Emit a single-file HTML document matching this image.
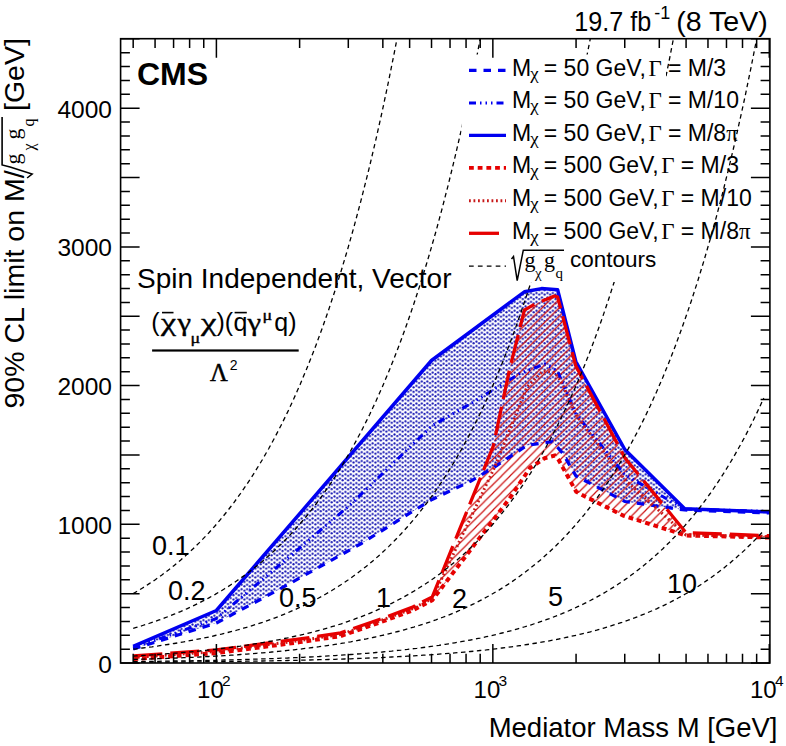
<!DOCTYPE html>
<html><head><meta charset="utf-8"><style>html,body{margin:0;padding:0;background:#fff;}svg{display:block;}</style></head>
<body><svg width="786" height="746" viewBox="0 0 786 746"><defs><clipPath id="fr"><rect x="120.6" y="38.7" width="649.3" height="624.3"/></clipPath><pattern id="dots" width="5.46" height="4.42" patternUnits="userSpaceOnUse"><circle cx="1.4" cy="1.4" r="1.08" fill="#1010b0"/><circle cx="4.13" cy="2.87" r="1.08" fill="#1010b0"/></pattern><pattern id="hatch" width="8.5" height="8.5" patternUnits="userSpaceOnUse"><path d="M-1,9.5 L9.5,-1 M-1,1 L1,-1 M7.5,9.5 L9.5,7.5" stroke="#cc1010" stroke-width="1.2"/></pattern></defs><rect width="786" height="746" fill="#fff"/><g clip-path="url(#fr)"><polygon points="133.2,646.3 216.4,610.5 431.5,360.5 524.4,291.8 541.5,288.6 557.6,289.7 575.8,361.5 624.8,449.5 684.7,508.7 769.8,512.0 769.8,513.0 684.7,510.0 625.0,501.5 576.0,476.0 562.5,453.0 552.3,441.6 526.9,445.4 496.3,465.8 470.9,481.1 432.0,499.5 409.7,513.2 361.3,543.5 284.6,586.4 216.5,623.0 133.2,649.0" fill="url(#dots)"/><polygon points="432.3,596.9 493.3,446.0 509.4,370.1 524.4,310.0 535.0,304.0 554.4,296.0 557.6,297.0 575.8,366.0 625.0,458.0 675.6,520.0 686.0,532.7 769.8,535.7 769.8,537.5 686.0,535.5 623.8,515.8 583.6,495.7 576.2,491.7 558.8,460.2 554.8,455.5 544.7,458.2 530.0,468.0 510.0,497.9 432.3,600.1" fill="url(#hatch)"/><polyline points="133.2,649.0 216.5,623.0 284.6,586.4 361.3,543.5 409.7,513.2 432.0,499.5 470.9,481.1 496.3,465.8 526.9,445.4 552.3,441.6 562.5,453.0 576.0,476.0 625.0,501.5 684.7,510.0 769.8,513.0" fill="none" stroke="#0000f0" stroke-width="3.2" stroke-dasharray="7.5 7"/><polyline points="133.2,648.0 216.5,618.5 348.6,506.3 432.0,425.8 472.9,402.3 520.1,373.3 545.0,364.0 557.5,371.0 576.0,414.0 625.0,475.0 684.7,509.0 769.8,511.5" fill="none" stroke="#0000f0" stroke-width="3" stroke-dasharray="7 4 1.5 4 1.5 4 1.5 4"/><polyline points="133.2,646.3 216.4,610.5 431.5,360.5 524.4,291.8 541.5,288.6 557.6,289.7 575.8,361.5 624.8,449.5 684.7,508.7 769.8,512.0" fill="none" stroke="#0000f0" stroke-width="3.5" stroke-linejoin="round"/><polyline points="133.4,659.1 216.5,653.1 300.0,642.1 340.7,636.1 381.4,621.9 412.0,610.6 432.3,600.1 510.0,497.9 530.0,468.0 544.7,458.2 554.8,455.5 558.8,460.2 576.2,491.7 583.6,495.7 623.8,515.8 686.0,535.5 769.8,537.5" fill="none" stroke="#e60000" stroke-width="4" stroke-dasharray="4.8 3.9"/><polyline points="133.4,657.5 216.5,651.5 300.0,640.5 340.7,634.5 381.4,620.3 412.0,609.0 432.3,598.5 494.3,467.9 514.1,419.2 527.0,387.0 543.0,370.9 554.3,372.5 560.8,380.6 576.0,415.0 625.0,480.0 686.0,535.0 769.8,536.5" fill="none" stroke="#c81818" stroke-width="3" stroke-dasharray="1.8 2.7"/><polyline points="133.4,655.9 216.5,649.9 300.0,638.9 340.7,632.9 381.4,618.7 412.0,607.4 432.3,596.9 493.3,446.0 509.4,370.1 524.4,310.0 535.0,304.0 554.4,296.0 557.6,297.0 575.8,366.0 625.0,458.0 675.6,520.0 686.0,532.7 769.8,535.7" fill="none" stroke="#e60000" stroke-width="3.3" stroke-dasharray="29 8"/><polyline points="133.2,593.6 136.3,591.8 139.5,589.9 142.6,588.0 145.8,586.0 148.9,583.9 152.1,581.8 155.3,579.7 158.4,577.4 161.6,575.2 164.7,572.8 167.9,570.4 171.0,568.0 174.2,565.4 177.3,562.8 180.5,560.2 183.6,557.4 186.8,554.6 189.9,551.7 193.1,548.8 196.2,545.7 199.4,542.6 202.5,539.4 205.7,536.1 208.9,532.8 212.0,529.3 215.2,525.7 218.3,522.1 221.5,518.3 224.6,514.5 227.8,510.5 230.9,506.5 234.1,502.3 237.2,498.0 240.4,493.6 243.5,489.1 246.7,484.5 249.8,479.8 253.0,474.9 256.1,469.9 259.3,464.7 262.5,459.5 265.6,454.0 268.8,448.5 271.9,442.8 275.1,436.9 278.2,430.9 281.4,424.7 284.5,418.4 287.7,411.9 290.8,405.2 294.0,398.3 297.1,391.3 300.3,384.1 303.4,376.6 306.6,369.0 309.7,361.2 312.9,353.2 316.1,344.9 319.2,336.4 322.4,327.8 325.5,318.8 328.7,309.7 331.8,300.3 335.0,290.6 338.1,280.7 341.3,270.5 344.4,260.1 347.6,249.4 350.7,238.4 353.9,227.1 357.0,215.5 360.2,203.6 363.3,191.3 366.5,178.8 369.7,165.9 372.8,152.7 376.0,139.1 379.1,125.2 382.3,110.9 385.4,96.2 388.6,81.1 391.7,65.6 394.9,49.7 398.0,33.4 401.2,16.6 404.3,-0.6 407.5,-18.2 410.6,-36.4 413.8,-55.0 416.9,-74.1 420.1,-93.7 423.3,-113.8 426.4,-134.5 429.6,-155.7 432.7,-177.5 435.9,-199.9 439.0,-222.8 442.2,-246.4 445.3,-270.6 448.5,-295.4 451.6,-320.9 454.8,-347.1 457.9,-374.0 461.1,-401.6 464.2,-429.9 467.4,-459.0 470.5,-488.9 473.7,-519.5 476.9,-551.0 480.0,-583.3 483.2,-616.4 486.3,-650.5 489.5,-685.4 492.6,-721.3 495.8,-758.2 498.9,-796.0 502.1,-834.8 505.2,-874.6 508.4,-915.6 511.5,-957.6 514.7,-1000.7 517.8,-1045.0 521.0,-1090.4 524.1,-1137.1 527.3,-1185.0 530.5,-1234.1 533.6,-1284.6 536.8,-1336.4 539.9,-1389.6 543.1,-1444.3 546.2,-1500.3 549.4,-1557.9 552.5,-1617.0 555.7,-1677.7 558.8,-1739.9 562.0,-1803.9 565.1,-1869.5 568.3,-1936.9 571.4,-2006.1 574.6,-2077.1 577.7,-2150.0 580.9,-2224.9 584.1,-2301.7 587.2,-2380.6 590.4,-2461.6 593.5,-2544.8 596.7,-2630.1 599.8,-2717.7 603.0,-2807.7 606.1,-2900.0 609.3,-2994.9 612.4,-3092.2 615.6,-3192.1 618.7,-3294.7 621.9,-3400.0 625.0,-3508.1 628.2,-3619.1 631.3,-3733.1 634.5,-3850.0 637.7,-3970.1 640.8,-4093.4 644.0,-4220.0 647.1,-4349.9 650.3,-4483.3 653.4,-4620.2 656.6,-4760.8 659.7,-4905.1 662.9,-5053.3 666.0,-5205.4 669.2,-5361.6 672.3,-5521.9 675.5,-5686.4 678.6,-5855.4 681.8,-6028.8 684.9,-6206.9 688.1,-6389.7 691.3,-6577.4 694.4,-6770.0 697.6,-6967.8 700.7,-7170.9 703.9,-7379.3 707.0,-7593.3 710.2,-7813.0 713.3,-8038.6 716.5,-8270.1 719.6,-8507.8 722.8,-8751.8 725.9,-9002.4 729.1,-9259.5 732.2,-9523.6 735.4,-9794.6 738.5,-10072.9 741.7,-10358.6 744.9,-10651.9 748.0,-10952.9 751.2,-11262.0 754.3,-11579.3 757.5,-11905.1 760.6,-12239.5 763.8,-12582.9" fill="none" stroke="#000" stroke-width="1.3" stroke-dasharray="4.5 3.5"/><polyline points="133.2,628.3 136.3,627.4 139.5,626.5 142.6,625.5 145.8,624.5 148.9,623.5 152.1,622.4 155.3,621.3 158.4,620.2 161.6,619.1 164.7,617.9 167.9,616.7 171.0,615.5 174.2,614.2 177.3,612.9 180.5,611.6 183.6,610.2 186.8,608.8 189.9,607.4 193.1,605.9 196.2,604.4 199.4,602.8 202.5,601.2 205.7,599.6 208.9,597.9 212.0,596.1 215.2,594.4 218.3,592.5 221.5,590.7 224.6,588.7 227.8,586.8 230.9,584.7 234.1,582.7 237.2,580.5 240.4,578.3 243.5,576.1 246.7,573.8 249.8,571.4 253.0,568.9 256.1,566.4 259.3,563.9 262.5,561.2 265.6,558.5 268.8,555.7 271.9,552.9 275.1,550.0 278.2,546.9 281.4,543.9 284.5,540.7 287.7,537.4 290.8,534.1 294.0,530.7 297.1,527.1 300.3,523.5 303.4,519.8 306.6,516.0 309.7,512.1 312.9,508.1 316.1,504.0 319.2,499.7 322.4,495.4 325.5,490.9 328.7,486.3 331.8,481.6 335.0,476.8 338.1,471.9 341.3,466.8 344.4,461.6 347.6,456.2 350.7,450.7 353.9,445.0 357.0,439.2 360.2,433.3 363.3,427.2 366.5,420.9 369.7,414.5 372.8,407.8 376.0,401.1 379.1,394.1 382.3,386.9 385.4,379.6 388.6,372.0 391.7,364.3 394.9,356.3 398.0,348.2 401.2,339.8 404.3,331.2 407.5,322.4 410.6,313.3 413.8,304.0 416.9,294.5 420.1,284.7 423.3,274.6 426.4,264.3 429.6,253.6 432.7,242.8 435.9,231.6 439.0,220.1 442.2,208.3 445.3,196.2 448.5,183.8 451.6,171.0 454.8,157.9 457.9,144.5 461.1,130.7 464.2,116.5 467.4,102.0 470.5,87.1 473.7,71.7 476.9,56.0 480.0,39.9 483.2,23.3 486.3,6.3 489.5,-11.2 492.6,-29.2 495.8,-47.6 498.9,-66.5 502.1,-85.9 505.2,-105.8 508.4,-126.3 511.5,-147.3 514.7,-168.8 517.8,-191.0 521.0,-213.7 524.1,-237.0 527.3,-261.0 530.5,-285.6 533.6,-310.8 536.8,-336.7 539.9,-363.3 543.1,-390.6 546.2,-418.7 549.4,-447.4 552.5,-477.0 555.7,-507.3 558.8,-538.5 562.0,-570.4 565.1,-603.3 568.3,-637.0 571.4,-671.5 574.6,-707.1 577.7,-743.5 580.9,-780.9 584.1,-819.4 587.2,-858.8 590.4,-899.3 593.5,-940.9 596.7,-983.6 599.8,-1027.4 603.0,-1072.3 606.1,-1118.5 609.3,-1165.9 612.4,-1214.6 615.6,-1264.6 618.7,-1315.8 621.9,-1368.5 625.0,-1422.6 628.2,-1478.1 631.3,-1535.0 634.5,-1593.5 637.7,-1653.6 640.8,-1715.2 644.0,-1778.5 647.1,-1843.4 650.3,-1910.1 653.4,-1978.6 656.6,-2048.9 659.7,-2121.1 662.9,-2195.1 666.0,-2271.2 669.2,-2349.3 672.3,-2429.4 675.5,-2511.7 678.6,-2596.2 681.8,-2682.9 684.9,-2772.0 688.1,-2863.4 691.3,-2957.2 694.4,-3053.5 697.6,-3152.4 700.7,-3253.9 703.9,-3358.2 707.0,-3465.2 710.2,-3575.0 713.3,-3687.8 716.5,-3803.6 719.6,-3922.4 722.8,-4044.4 725.9,-4169.7 729.1,-4298.3 732.2,-4430.3 735.4,-4565.8 738.5,-4705.0 741.7,-4847.8 744.9,-4994.4 748.0,-5145.0 751.2,-5299.5 754.3,-5458.2 757.5,-5621.0 760.6,-5788.3 763.8,-5959.9" fill="none" stroke="#000" stroke-width="1.3" stroke-dasharray="4.5 3.5"/><polyline points="133.2,649.1 136.3,648.8 139.5,648.4 142.6,648.0 145.8,647.6 148.9,647.2 152.1,646.8 155.3,646.3 158.4,645.9 161.6,645.4 164.7,645.0 167.9,644.5 171.0,644.0 174.2,643.5 177.3,643.0 180.5,642.4 183.6,641.9 186.8,641.3 189.9,640.7 193.1,640.2 196.2,639.5 199.4,638.9 202.5,638.3 205.7,637.6 208.9,637.0 212.0,636.3 215.2,635.5 218.3,634.8 221.5,634.1 224.6,633.3 227.8,632.5 230.9,631.7 234.1,630.9 237.2,630.0 240.4,629.1 243.5,628.2 246.7,627.3 249.8,626.4 253.0,625.4 256.1,624.4 259.3,623.3 262.5,622.3 265.6,621.2 268.8,620.1 271.9,619.0 275.1,617.8 278.2,616.6 281.4,615.3 284.5,614.1 287.7,612.8 290.8,611.4 294.0,610.1 297.1,608.7 300.3,607.2 303.4,605.7 306.6,604.2 309.7,602.6 312.9,601.0 316.1,599.4 319.2,597.7 322.4,596.0 325.5,594.2 328.7,592.3 331.8,590.5 335.0,588.5 338.1,586.5 341.3,584.5 344.4,582.4 347.6,580.3 350.7,578.1 353.9,575.8 357.0,573.5 360.2,571.1 363.3,568.7 366.5,566.2 369.7,563.6 372.8,560.9 376.0,558.2 379.1,555.4 382.3,552.6 385.4,549.6 388.6,546.6 391.7,543.5 394.9,540.3 398.0,537.1 401.2,533.7 404.3,530.3 407.5,526.8 410.6,523.1 413.8,519.4 416.9,515.6 420.1,511.7 423.3,507.6 426.4,503.5 429.6,499.3 432.7,494.9 435.9,490.4 439.0,485.8 442.2,481.1 445.3,476.3 448.5,471.3 451.6,466.2 454.8,461.0 457.9,455.6 461.1,450.1 464.2,444.4 467.4,438.6 470.5,432.6 473.7,426.5 476.9,420.2 480.0,413.7 483.2,407.1 486.3,400.3 489.5,393.3 492.6,386.1 495.8,378.8 498.9,371.2 502.1,363.4 505.2,355.5 508.4,347.3 511.5,338.9 514.7,330.3 517.8,321.4 521.0,312.3 524.1,303.0 527.3,293.4 530.5,283.6 533.6,273.5 536.8,263.1 539.9,252.5 543.1,241.5 546.2,230.3 549.4,218.8 552.5,207.0 555.7,194.9 558.8,182.4 562.0,169.6 565.1,156.5 568.3,143.0 571.4,129.2 574.6,115.0 577.7,100.4 580.9,85.4 584.1,70.1 587.2,54.3 590.4,38.1 593.5,21.4 596.7,4.4 599.8,-13.1 603.0,-31.1 606.1,-49.6 609.3,-68.6 612.4,-88.0 615.6,-108.0 618.7,-128.5 621.9,-149.6 625.0,-171.2 628.2,-193.4 631.3,-216.2 634.5,-239.6 637.7,-263.6 640.8,-288.3 644.0,-313.6 647.1,-339.6 650.3,-366.3 653.4,-393.6 656.6,-421.8 659.7,-450.6 662.9,-480.3 666.0,-510.7 669.2,-541.9 672.3,-574.0 675.5,-606.9 678.6,-640.7 681.8,-675.4 684.9,-711.0 688.1,-747.5 691.3,-785.1 694.4,-823.6 697.6,-863.2 700.7,-903.8 703.9,-945.5 707.0,-988.3 710.2,-1032.2 713.3,-1077.3 716.5,-1123.6 719.6,-1171.2 722.8,-1220.0 725.9,-1270.1 729.1,-1321.5 732.2,-1374.3 735.4,-1428.5 738.5,-1484.2 741.7,-1541.3 744.9,-1600.0 748.0,-1660.2 751.2,-1722.0 754.3,-1785.5 757.5,-1850.6 760.6,-1917.5 763.8,-1986.2" fill="none" stroke="#000" stroke-width="1.3" stroke-dasharray="4.5 3.5"/><polyline points="133.2,656.1 136.3,655.9 139.5,655.7 142.6,655.5 145.8,655.3 148.9,655.1 152.1,654.9 155.3,654.7 158.4,654.4 161.6,654.2 164.7,654.0 167.9,653.7 171.0,653.5 174.2,653.2 177.3,653.0 180.5,652.7 183.6,652.4 186.8,652.2 189.9,651.9 193.1,651.6 196.2,651.3 199.4,651.0 202.5,650.6 205.7,650.3 208.9,650.0 212.0,649.6 215.2,649.3 218.3,648.9 221.5,648.5 224.6,648.1 227.8,647.8 230.9,647.3 234.1,646.9 237.2,646.5 240.4,646.1 243.5,645.6 246.7,645.2 249.8,644.7 253.0,644.2 256.1,643.7 259.3,643.2 262.5,642.6 265.6,642.1 268.8,641.5 271.9,641.0 275.1,640.4 278.2,639.8 281.4,639.2 284.5,638.5 287.7,637.9 290.8,637.2 294.0,636.5 297.1,635.8 300.3,635.1 303.4,634.4 306.6,633.6 309.7,632.8 312.9,632.0 316.1,631.2 319.2,630.3 322.4,629.5 325.5,628.6 328.7,627.7 331.8,626.7 335.0,625.8 338.1,624.8 341.3,623.8 344.4,622.7 347.6,621.6 350.7,620.5 353.9,619.4 357.0,618.2 360.2,617.1 363.3,615.8 366.5,614.6 369.7,613.3 372.8,612.0 376.0,610.6 379.1,609.2 382.3,607.8 385.4,606.3 388.6,604.8 391.7,603.3 394.9,601.7 398.0,600.0 401.2,598.4 404.3,596.6 407.5,594.9 410.6,593.1 413.8,591.2 416.9,589.3 420.1,587.3 423.3,585.3 426.4,583.3 429.6,581.1 432.7,579.0 435.9,576.7 439.0,574.4 442.2,572.1 445.3,569.6 448.5,567.2 451.6,564.6 454.8,562.0 457.9,559.3 461.1,556.5 464.2,553.7 467.4,550.8 470.5,547.8 473.7,544.7 476.9,541.6 480.0,538.4 483.2,535.1 486.3,531.7 489.5,528.2 492.6,524.6 495.8,520.9 498.9,517.1 502.1,513.2 505.2,509.2 508.4,505.1 511.5,500.9 514.7,496.6 517.8,492.2 521.0,487.7 524.1,483.0 527.3,478.2 530.5,473.3 533.6,468.2 536.8,463.1 539.9,457.7 543.1,452.3 546.2,446.7 549.4,440.9 552.5,435.0 555.7,428.9 558.8,422.7 562.0,416.3 565.1,409.7 568.3,403.0 571.4,396.1 574.6,389.0 577.7,381.7 580.9,374.2 584.1,366.5 587.2,358.6 590.4,350.5 593.5,342.2 596.7,333.7 599.8,324.9 603.0,315.9 606.1,306.7 609.3,297.2 612.4,287.5 615.6,277.5 618.7,267.2 621.9,256.7 625.0,245.9 628.2,234.8 631.3,223.4 634.5,211.7 637.7,199.7 640.8,187.4 644.0,174.7 647.1,161.7 650.3,148.4 653.4,134.7 656.6,120.6 659.7,106.2 662.9,91.4 666.0,76.2 669.2,60.5 672.3,44.5 675.5,28.1 678.6,11.2 681.8,-6.2 684.9,-24.0 688.1,-42.3 691.3,-61.0 694.4,-80.3 697.6,-100.1 700.7,-120.4 703.9,-141.2 707.0,-162.6 710.2,-184.6 713.3,-207.2 716.5,-230.3 719.6,-254.1 722.8,-278.5 725.9,-303.5 729.1,-329.3 732.2,-355.7 735.4,-382.8 738.5,-410.6 741.7,-439.2 744.9,-468.5 748.0,-498.6 751.2,-529.5 754.3,-561.2 757.5,-593.8 760.6,-627.3 763.8,-661.6" fill="none" stroke="#000" stroke-width="1.3" stroke-dasharray="4.5 3.5"/><rect x="461.5" y="54.5" width="204.5" height="227.5" fill="#fff"/><polyline points="133.2,659.5 136.3,659.4 139.5,659.3 142.6,659.2 145.8,659.1 148.9,659.0 152.1,658.9 155.3,658.8 158.4,658.7 161.6,658.6 164.7,658.5 167.9,658.4 171.0,658.2 174.2,658.1 177.3,658.0 180.5,657.9 183.6,657.7 186.8,657.6 189.9,657.4 193.1,657.3 196.2,657.1 199.4,657.0 202.5,656.8 205.7,656.7 208.9,656.5 212.0,656.3 215.2,656.1 218.3,656.0 221.5,655.8 224.6,655.6 227.8,655.4 230.9,655.2 234.1,655.0 237.2,654.8 240.4,654.5 243.5,654.3 246.7,654.1 249.8,653.8 253.0,653.6 256.1,653.3 259.3,653.1 262.5,652.8 265.6,652.6 268.8,652.3 271.9,652.0 275.1,651.7 278.2,651.4 281.4,651.1 284.5,650.8 287.7,650.4 290.8,650.1 294.0,649.8 297.1,649.4 300.3,649.1 303.4,648.7 306.6,648.3 309.7,647.9 312.9,647.5 316.1,647.1 319.2,646.7 322.4,646.2 325.5,645.8 328.7,645.3 331.8,644.9 335.0,644.4 338.1,643.9 341.3,643.4 344.4,642.9 347.6,642.3 350.7,641.8 353.9,641.2 357.0,640.6 360.2,640.0 363.3,639.4 366.5,638.8 369.7,638.1 372.8,637.5 376.0,636.8 379.1,636.1 382.3,635.4 385.4,634.7 388.6,633.9 391.7,633.1 394.9,632.3 398.0,631.5 401.2,630.7 404.3,629.8 407.5,628.9 410.6,628.0 413.8,627.1 416.9,626.1 420.1,625.2 423.3,624.2 426.4,623.1 429.6,622.1 432.7,621.0 435.9,619.9 439.0,618.7 442.2,617.5 445.3,616.3 448.5,615.1 451.6,613.8 454.8,612.5 457.9,611.2 461.1,609.8 464.2,608.4 467.4,606.9 470.5,605.4 473.7,603.9 476.9,602.3 480.0,600.7 483.2,599.0 486.3,597.3 489.5,595.6 492.6,593.8 495.8,591.9 498.9,590.1 502.1,588.1 505.2,586.1 508.4,584.1 511.5,582.0 514.7,579.8 517.8,577.6 521.0,575.3 524.1,573.0 527.3,570.6 530.5,568.1 533.6,565.6 536.8,563.0 539.9,560.4 543.1,557.6 546.2,554.8 549.4,552.0 552.5,549.0 555.7,546.0 558.8,542.9 562.0,539.7 565.1,536.4 568.3,533.0 571.4,529.5 574.6,526.0 577.7,522.3 580.9,518.6 584.1,514.8 587.2,510.8 590.4,506.8 593.5,502.6 596.7,498.3 599.8,494.0 603.0,489.5 606.1,484.8 609.3,480.1 612.4,475.2 615.6,470.2 618.7,465.1 621.9,459.8 625.0,454.4 628.2,448.9 631.3,443.2 634.5,437.3 637.7,431.3 640.8,425.2 644.0,418.9 647.1,412.4 650.3,405.7 653.4,398.8 656.6,391.8 659.7,384.6 662.9,377.2 666.0,369.6 669.2,361.8 672.3,353.8 675.5,345.5 678.6,337.1 681.8,328.4 684.9,319.5 688.1,310.4 691.3,301.0 694.4,291.3 697.6,281.5 700.7,271.3 703.9,260.9 707.0,250.2 710.2,239.2 713.3,227.9 716.5,216.3 719.6,204.5 722.8,192.3 725.9,179.7 729.1,166.9 732.2,153.7 735.4,140.1 738.5,126.2 741.7,111.9 744.9,97.3 748.0,82.2 751.2,66.7 754.3,50.9 757.5,34.6 760.6,17.9 763.8,0.7" fill="none" stroke="#000" stroke-width="1.3" stroke-dasharray="4.5 3.5"/><polyline points="133.2,661.6 136.3,661.6 139.5,661.5 142.6,661.5 145.8,661.5 148.9,661.4 152.1,661.4 155.3,661.3 158.4,661.3 161.6,661.2 164.7,661.2 167.9,661.1 171.0,661.1 174.2,661.0 177.3,661.0 180.5,660.9 183.6,660.9 186.8,660.8 189.9,660.8 193.1,660.7 196.2,660.7 199.4,660.6 202.5,660.5 205.7,660.5 208.9,660.4 212.0,660.3 215.2,660.3 218.3,660.2 221.5,660.1 224.6,660.0 227.8,660.0 230.9,659.9 234.1,659.8 237.2,659.7 240.4,659.6 243.5,659.5 246.7,659.4 249.8,659.3 253.0,659.2 256.1,659.1 259.3,659.0 262.5,658.9 265.6,658.8 268.8,658.7 271.9,658.6 275.1,658.5 278.2,658.4 281.4,658.2 284.5,658.1 287.7,658.0 290.8,657.8 294.0,657.7 297.1,657.6 300.3,657.4 303.4,657.3 306.6,657.1 309.7,657.0 312.9,656.8 316.1,656.6 319.2,656.5 322.4,656.3 325.5,656.1 328.7,655.9 331.8,655.7 335.0,655.6 338.1,655.4 341.3,655.2 344.4,654.9 347.6,654.7 350.7,654.5 353.9,654.3 357.0,654.0 360.2,653.8 363.3,653.6 366.5,653.3 369.7,653.1 372.8,652.8 376.0,652.5 379.1,652.2 382.3,652.0 385.4,651.7 388.6,651.4 391.7,651.1 394.9,650.7 398.0,650.4 401.2,650.1 404.3,649.7 407.5,649.4 410.6,649.0 413.8,648.6 416.9,648.3 420.1,647.9 423.3,647.5 426.4,647.1 429.6,646.6 432.7,646.2 435.9,645.7 439.0,645.3 442.2,644.8 445.3,644.3 448.5,643.8 451.6,643.3 454.8,642.8 457.9,642.3 461.1,641.7 464.2,641.1 467.4,640.6 470.5,640.0 473.7,639.3 476.9,638.7 480.0,638.1 483.2,637.4 486.3,636.7 489.5,636.0 492.6,635.3 495.8,634.6 498.9,633.8 502.1,633.0 505.2,632.2 508.4,631.4 511.5,630.6 514.7,629.7 517.8,628.8 521.0,627.9 524.1,627.0 527.3,626.0 530.5,625.1 533.6,624.0 536.8,623.0 539.9,621.9 543.1,620.9 546.2,619.7 549.4,618.6 552.5,617.4 555.7,616.2 558.8,614.9 562.0,613.7 565.1,612.3 568.3,611.0 571.4,609.6 574.6,608.2 577.7,606.7 580.9,605.2 584.1,603.7 587.2,602.1 590.4,600.5 593.5,598.8 596.7,597.1 599.8,595.4 603.0,593.6 606.1,591.7 609.3,589.8 612.4,587.9 615.6,585.9 618.7,583.8 621.9,581.7 625.0,579.6 628.2,577.4 631.3,575.1 634.5,572.7 637.7,570.3 640.8,567.9 644.0,565.3 647.1,562.7 650.3,560.1 653.4,557.3 656.6,554.5 659.7,551.6 662.9,548.7 666.0,545.6 669.2,542.5 672.3,539.3 675.5,536.0 678.6,532.6 681.8,529.2 684.9,525.6 688.1,521.9 691.3,518.2 694.4,514.3 697.6,510.4 700.7,506.3 703.9,502.2 707.0,497.9 710.2,493.5 713.3,489.0 716.5,484.3 719.6,479.6 722.8,474.7 725.9,469.7 729.1,464.5 732.2,459.3 735.4,453.8 738.5,448.3 741.7,442.6 744.9,436.7 748.0,430.7 751.2,424.5 754.3,418.2 757.5,411.6 760.6,404.9 763.8,398.1" fill="none" stroke="#000" stroke-width="1.3" stroke-dasharray="4.5 3.5"/><polyline points="133.2,662.3 136.3,662.3 139.5,662.3 142.6,662.2 145.8,662.2 148.9,662.2 152.1,662.2 155.3,662.2 158.4,662.1 161.6,662.1 164.7,662.1 167.9,662.1 171.0,662.0 174.2,662.0 177.3,662.0 180.5,662.0 183.6,661.9 186.8,661.9 189.9,661.9 193.1,661.9 196.2,661.8 199.4,661.8 202.5,661.8 205.7,661.7 208.9,661.7 212.0,661.7 215.2,661.6 218.3,661.6 221.5,661.6 224.6,661.5 227.8,661.5 230.9,661.4 234.1,661.4 237.2,661.4 240.4,661.3 243.5,661.3 246.7,661.2 249.8,661.2 253.0,661.1 256.1,661.1 259.3,661.0 262.5,661.0 265.6,660.9 268.8,660.9 271.9,660.8 275.1,660.7 278.2,660.7 281.4,660.6 284.5,660.6 287.7,660.5 290.8,660.4 294.0,660.4 297.1,660.3 300.3,660.2 303.4,660.1 306.6,660.1 309.7,660.0 312.9,659.9 316.1,659.8 319.2,659.7 322.4,659.6 325.5,659.6 328.7,659.5 331.8,659.4 335.0,659.3 338.1,659.2 341.3,659.1 344.4,659.0 347.6,658.9 350.7,658.8 353.9,658.6 357.0,658.5 360.2,658.4 363.3,658.3 366.5,658.2 369.7,658.0 372.8,657.9 376.0,657.8 379.1,657.6 382.3,657.5 385.4,657.3 388.6,657.2 391.7,657.0 394.9,656.9 398.0,656.7 401.2,656.5 404.3,656.4 407.5,656.2 410.6,656.0 413.8,655.8 416.9,655.6 420.1,655.4 423.3,655.2 426.4,655.0 429.6,654.8 432.7,654.6 435.9,654.4 439.0,654.1 442.2,653.9 445.3,653.7 448.5,653.4 451.6,653.2 454.8,652.9 457.9,652.6 461.1,652.4 464.2,652.1 467.4,651.8 470.5,651.5 473.7,651.2 476.9,650.9 480.0,650.5 483.2,650.2 486.3,649.9 489.5,649.5 492.6,649.2 495.8,648.8 498.9,648.4 502.1,648.0 505.2,647.6 508.4,647.2 511.5,646.8 514.7,646.4 517.8,645.9 521.0,645.5 524.1,645.0 527.3,644.5 530.5,644.0 533.6,643.5 536.8,643.0 539.9,642.5 543.1,641.9 546.2,641.4 549.4,640.8 552.5,640.2 555.7,639.6 558.8,639.0 562.0,638.3 565.1,637.7 568.3,637.0 571.4,636.3 574.6,635.6 577.7,634.9 580.9,634.1 584.1,633.4 587.2,632.6 590.4,631.8 593.5,630.9 596.7,630.1 599.8,629.2 603.0,628.3 606.1,627.4 609.3,626.4 612.4,625.4 615.6,624.4 618.7,623.4 621.9,622.4 625.0,621.3 628.2,620.2 631.3,619.0 634.5,617.9 637.7,616.7 640.8,615.4 644.0,614.2 647.1,612.9 650.3,611.5 653.4,610.2 656.6,608.8 659.7,607.3 662.9,605.8 666.0,604.3 669.2,602.8 672.3,601.2 675.5,599.5 678.6,597.8 681.8,596.1 684.9,594.3 688.1,592.5 691.3,590.6 694.4,588.7 697.6,586.7 700.7,584.7 703.9,582.6 707.0,580.4 710.2,578.2 713.3,576.0 716.5,573.7 719.6,571.3 722.8,568.9 725.9,566.3 729.1,563.8 732.2,561.1 735.4,558.4 738.5,555.6 741.7,552.8 744.9,549.9 748.0,546.8 751.2,543.7 754.3,540.6 757.5,537.3 760.6,534.0 763.8,530.5" fill="none" stroke="#000" stroke-width="1.3" stroke-dasharray="4.5 3.5"/></g><rect x="120.6" y="38.7" width="649.3" height="624.3" fill="none" stroke="#000" stroke-width="1.6"/><path d="M120.6,663.00h19M769.9,663.00h-19M120.6,649.13h9.3M769.9,649.13h-9.3M120.6,635.26h9.3M769.9,635.26h-9.3M120.6,621.39h9.3M769.9,621.39h-9.3M120.6,607.52h9.3M769.9,607.52h-9.3M120.6,593.65h19M769.9,593.65h-19M120.6,579.78h9.3M769.9,579.78h-9.3M120.6,565.91h9.3M769.9,565.91h-9.3M120.6,552.04h9.3M769.9,552.04h-9.3M120.6,538.17h9.3M769.9,538.17h-9.3M120.6,524.30h19M769.9,524.30h-19M120.6,510.43h9.3M769.9,510.43h-9.3M120.6,496.56h9.3M769.9,496.56h-9.3M120.6,482.69h9.3M769.9,482.69h-9.3M120.6,468.82h9.3M769.9,468.82h-9.3M120.6,454.95h19M769.9,454.95h-19M120.6,441.08h9.3M769.9,441.08h-9.3M120.6,427.21h9.3M769.9,427.21h-9.3M120.6,413.34h9.3M769.9,413.34h-9.3M120.6,399.47h9.3M769.9,399.47h-9.3M120.6,385.60h19M769.9,385.60h-19M120.6,371.73h9.3M769.9,371.73h-9.3M120.6,357.86h9.3M769.9,357.86h-9.3M120.6,343.99h9.3M769.9,343.99h-9.3M120.6,330.12h9.3M769.9,330.12h-9.3M120.6,316.25h19M769.9,316.25h-19M120.6,302.38h9.3M769.9,302.38h-9.3M120.6,288.51h9.3M769.9,288.51h-9.3M120.6,274.64h9.3M769.9,274.64h-9.3M120.6,260.77h9.3M769.9,260.77h-9.3M120.6,246.90h19M769.9,246.90h-19M120.6,233.03h9.3M769.9,233.03h-9.3M120.6,219.16h9.3M769.9,219.16h-9.3M120.6,205.29h9.3M769.9,205.29h-9.3M120.6,191.42h9.3M769.9,191.42h-9.3M120.6,177.55h19M769.9,177.55h-19M120.6,163.68h9.3M769.9,163.68h-9.3M120.6,149.81h9.3M769.9,149.81h-9.3M120.6,135.94h9.3M769.9,135.94h-9.3M120.6,122.07h9.3M769.9,122.07h-9.3M120.6,108.20h19M769.9,108.20h-19M120.6,94.33h9.3M769.9,94.33h-9.3M120.6,80.46h9.3M769.9,80.46h-9.3M120.6,66.59h9.3M769.9,66.59h-9.3M120.6,52.72h9.3M769.9,52.72h-9.3M120.6,38.85h19M769.9,38.85h-19M133.18,663.0v-9.3M133.18,38.7v9.3M155.07,663.0v-9.3M155.07,38.7v9.3M173.58,663.0v-9.3M173.58,38.7v9.3M189.61,663.0v-9.3M189.61,38.7v9.3M203.75,663.0v-9.3M203.75,38.7v9.3M216.40,663.0v-19M216.40,38.7v19M299.62,663.0v-9.3M299.62,38.7v9.3M348.30,663.0v-9.3M348.30,38.7v9.3M382.84,663.0v-9.3M382.84,38.7v9.3M409.63,663.0v-9.3M409.63,38.7v9.3M431.52,663.0v-9.3M431.52,38.7v9.3M450.03,663.0v-9.3M450.03,38.7v9.3M466.06,663.0v-9.3M466.06,38.7v9.3M480.20,663.0v-9.3M480.20,38.7v9.3M492.85,663.0v-19M492.85,38.7v19M576.07,663.0v-9.3M576.07,38.7v9.3M624.75,663.0v-9.3M624.75,38.7v9.3M659.29,663.0v-9.3M659.29,38.7v9.3M686.08,663.0v-9.3M686.08,38.7v9.3M707.97,663.0v-9.3M707.97,38.7v9.3M726.48,663.0v-9.3M726.48,38.7v9.3M742.51,663.0v-9.3M742.51,38.7v9.3M756.65,663.0v-9.3M756.65,38.7v9.3M769.30,663.0v-19M769.30,38.7v19" stroke="#000" stroke-width="1.5" fill="none"/><text x="112" y="672.5" font-family="Liberation Sans, sans-serif" font-size="24.5" text-anchor="end">0</text><text x="112" y="533.8" font-family="Liberation Sans, sans-serif" font-size="24.5" text-anchor="end">1000</text><text x="112" y="395.1" font-family="Liberation Sans, sans-serif" font-size="24.5" text-anchor="end">2000</text><text x="112" y="256.4" font-family="Liberation Sans, sans-serif" font-size="24.5" text-anchor="end">3000</text><text x="112" y="117.7" font-family="Liberation Sans, sans-serif" font-size="24.5" text-anchor="end">4000</text><text x="197.1" y="698" font-family="Liberation Sans, sans-serif" font-size="24">10</text><text x="222.0" y="686.3" font-family="Liberation Sans, sans-serif" font-size="15.5">2</text><text x="473.6" y="698" font-family="Liberation Sans, sans-serif" font-size="24">10</text><text x="498.5" y="686.3" font-family="Liberation Sans, sans-serif" font-size="15.5">3</text><text x="750.0" y="698" font-family="Liberation Sans, sans-serif" font-size="24">10</text><text x="774.9" y="686.3" font-family="Liberation Sans, sans-serif" font-size="15.5">4</text><text x="777.5" y="737" font-family="Liberation Sans, sans-serif" font-size="27.5" text-anchor="end">Mediator Mass M [GeV]</text><g transform="translate(24.1,407) rotate(-90)"><text x="-1.5" y="0" font-family="Liberation Sans, sans-serif" font-size="28.5">90% CL limit on M/</text><path d="M229,3 L233,8 L240,-14 L242,-22 L290,-22" fill="none" stroke="#000" stroke-width="1.6"/><text y="-4" font-family="Liberation Serif, serif" font-size="22"><tspan x="242.5">g</tspan><tspan x="256.5" y="10" font-size="16">χ</tspan><tspan x="267.5" y="-4">g</tspan><tspan x="280.5" y="10" font-size="16">q</tspan></text><text x="296" y="0" font-family="Liberation Sans, sans-serif" font-size="28.5">[GeV]</text></g><text x="574.2" y="30.5" font-family="Liberation Sans, sans-serif" font-size="27" textLength="77" lengthAdjust="spacingAndGlyphs">19.7 fb</text><text x="654.2" y="18.5" font-family="Liberation Sans, sans-serif" font-size="18">-1</text><text x="676.3" y="30.5" font-family="Liberation Sans, sans-serif" font-size="27" textLength="91.5" lengthAdjust="spacingAndGlyphs">(8 TeV)</text><text x="137" y="85" font-family="Liberation Sans, sans-serif" font-size="32" font-weight="bold">CMS</text><text x="137" y="288" font-family="Liberation Sans, sans-serif" font-size="28">Spin Independent, Vector</text><text x="151.3" y="331" font-family="Liberation Sans, sans-serif" font-size="25">(</text><text transform="translate(161,331) scale(1.36,1)" font-family="Liberation Serif, serif" font-size="25" stroke="#000" stroke-width="0.35">χ</text><text transform="translate(177.5,331) scale(1.23,1)" font-family="Liberation Serif, serif" font-size="25" stroke="#000" stroke-width="0.35">γ</text><text transform="translate(190.5,342.5) scale(1.2,1)" font-family="Liberation Serif, serif" font-size="15" stroke="#000" stroke-width="0.4">μ</text><text transform="translate(201,331) scale(1.4,1)" font-family="Liberation Serif, serif" font-size="25" stroke="#000" stroke-width="0.35">χ</text><text x="216.5" y="331" font-family="Liberation Sans, sans-serif" font-size="25">)(</text><text x="233.6" y="331" font-family="Liberation Sans, sans-serif" font-size="25">q</text><text transform="translate(247.5,331) scale(1.23,1)" font-family="Liberation Serif, serif" font-size="25" stroke="#000" stroke-width="0.35">γ</text><text transform="translate(262.5,319.5) scale(1.2,1)" font-family="Liberation Serif, serif" font-size="15" stroke="#000" stroke-width="0.4">μ</text><text x="274.3" y="331" font-family="Liberation Sans, sans-serif" font-size="25">q)</text><rect x="162" y="311.8" width="11.5" height="1.6" fill="#000"/><rect x="234.6" y="311.8" width="12.2" height="1.6" fill="#000"/><rect x="152.1" y="349.4" width="146.6" height="2.2" fill="#000"/><text x="210" y="381.4" font-family="Liberation Serif, serif" font-size="24.5" stroke="#000" stroke-width="0.5">Λ</text><text x="229.8" y="370.2" font-family="Liberation Sans, sans-serif" font-size="14">2</text><text x="152" y="555" font-family="Liberation Sans, sans-serif" font-size="27">0.1</text><text x="168" y="600" font-family="Liberation Sans, sans-serif" font-size="27">0.2</text><text x="279" y="607" font-family="Liberation Sans, sans-serif" font-size="27">0.5</text><text x="376" y="607" font-family="Liberation Sans, sans-serif" font-size="27">1</text><text x="452" y="608" font-family="Liberation Sans, sans-serif" font-size="27">2</text><text x="548" y="606" font-family="Liberation Sans, sans-serif" font-size="27">5</text><text x="667" y="593" font-family="Liberation Sans, sans-serif" font-size="27">10</text><text y="75.5" font-size="23"><tspan x="512" font-family="Liberation Sans, sans-serif">M</tspan><tspan x="543.8" y="75.5" font-family="Liberation Sans, sans-serif">= 50 GeV,</tspan><tspan x="648.5" font-family="Liberation Serif, serif">Γ</tspan><tspan x="668.0" font-family="Liberation Sans, sans-serif">= M/3</tspan></text><text transform="translate(530.3,78.5) scale(1.15,1)" font-family="Liberation Serif, serif" font-size="16.5">χ</text><text y="108.1" font-size="23"><tspan x="512" font-family="Liberation Sans, sans-serif">M</tspan><tspan x="543.8" y="108.1" font-family="Liberation Sans, sans-serif">= 50 GeV,</tspan><tspan x="648.5" font-family="Liberation Serif, serif">Γ</tspan><tspan x="668.0" font-family="Liberation Sans, sans-serif">= M/10</tspan></text><text transform="translate(530.3,111.1) scale(1.15,1)" font-family="Liberation Serif, serif" font-size="16.5">χ</text><text y="140.6" font-size="23"><tspan x="512" font-family="Liberation Sans, sans-serif">M</tspan><tspan x="543.8" y="140.6" font-family="Liberation Sans, sans-serif">= 50 GeV,</tspan><tspan x="648.5" font-family="Liberation Serif, serif">Γ</tspan><tspan x="668.0" font-family="Liberation Sans, sans-serif">= M/8<tspan font-family="Liberation Serif, serif">π</tspan></tspan></text><text transform="translate(530.3,143.6) scale(1.15,1)" font-family="Liberation Serif, serif" font-size="16.5">χ</text><text y="173.1" font-size="23"><tspan x="512" font-family="Liberation Sans, sans-serif">M</tspan><tspan x="543.8" y="173.1" font-family="Liberation Sans, sans-serif">= 500 GeV,</tspan><tspan x="661.3" font-family="Liberation Serif, serif">Γ</tspan><tspan x="680.8" font-family="Liberation Sans, sans-serif">= M/3</tspan></text><text transform="translate(530.3,176.1) scale(1.15,1)" font-family="Liberation Serif, serif" font-size="16.5">χ</text><text y="205.9" font-size="23"><tspan x="512" font-family="Liberation Sans, sans-serif">M</tspan><tspan x="543.8" y="205.9" font-family="Liberation Sans, sans-serif">= 500 GeV,</tspan><tspan x="661.3" font-family="Liberation Serif, serif">Γ</tspan><tspan x="680.8" font-family="Liberation Sans, sans-serif">= M/10</tspan></text><text transform="translate(530.3,208.9) scale(1.15,1)" font-family="Liberation Serif, serif" font-size="16.5">χ</text><text y="238.5" font-size="23"><tspan x="512" font-family="Liberation Sans, sans-serif">M</tspan><tspan x="543.8" y="238.5" font-family="Liberation Sans, sans-serif">= 500 GeV,</tspan><tspan x="661.3" font-family="Liberation Serif, serif">Γ</tspan><tspan x="680.8" font-family="Liberation Sans, sans-serif">= M/8<tspan font-family="Liberation Serif, serif">π</tspan></tspan></text><text transform="translate(530.3,241.5) scale(1.15,1)" font-family="Liberation Serif, serif" font-size="16.5">χ</text><path d="M511.5,259 L513.5,256.5 L517.2,280.7 L523.3,250.2 L564,250.2" fill="none" stroke="#000" stroke-width="1.5"/><text y="266.5" font-family="Liberation Serif, serif" font-size="22"><tspan x="524.6">g</tspan><tspan x="535" y="277.5" font-size="15">χ</tspan><tspan x="544" y="266.5">g</tspan><tspan x="555.5" y="277.5" font-size="15">q</tspan></text><text x="570" y="266.5" font-family="Liberation Sans, sans-serif" font-size="22.5">contours</text><path d="M469,70.3h37" stroke="#0000f0" stroke-width="3.2" stroke-dasharray="7.5 7"/><path d="M469,102.9h37" stroke="#0000f0" stroke-width="3" stroke-dasharray="7 4 1.5 4 1.5 4 1.5 4"/><path d="M469,135.4h37" stroke="#0000f0" stroke-width="3.2"/><path d="M469,167.9h37" stroke="#e60000" stroke-width="3.6" stroke-dasharray="4.8 3.9"/><path d="M469,200.7h37" stroke="#c81818" stroke-width="3" stroke-dasharray="1.8 2.7"/><path d="M469,233.3h30" stroke="#e60000" stroke-width="3.3"/><path d="M469,266.2h37" stroke="#000" stroke-width="1.2" stroke-dasharray="4.7 4.2"/></svg></body></html>
